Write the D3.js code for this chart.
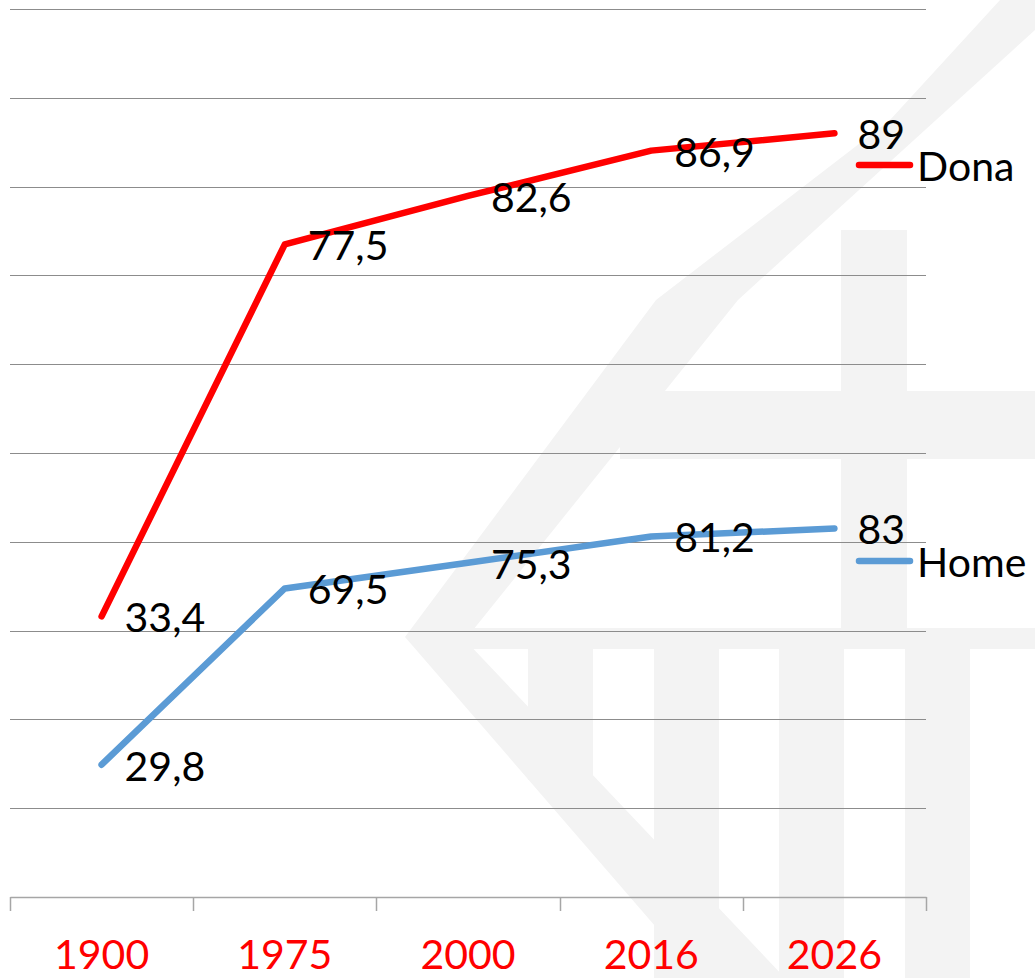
<!DOCTYPE html>
<html>
<head>
<meta charset="utf-8">
<script src="https://cdn.jsdelivr.net/npm/d3@7"></script>
<style>
html,body{margin:0;padding:0;background:#fff;}
svg{display:block;}
text{font-family:Lato,"Open Sans",sans-serif;}
</style>
</head>
<body>
<svg id="chart" width="1035" height="978"></svg>
<script>
// ---- data ----
const categories = ["1900", "1975", "2000", "2016", "2026"];
const dona = [33.4, 77.5, 82.6, 86.9, 89];
const home = [29.8, 69.5, 75.3, 81.2, 83];
const seriesNames = ["Home", "Dona"];
const yTicks = [0, 20, 40, 60, 80, 100, 120, 140, 160, 180, 200];

// ---- layout ----
const W = 1035, H = 978;
const plot = {left: 10, right: 926, top: 9, bottom: 897};
const colors = {Dona: "#ff0000", Home: "#5b9bd5"};
const fontSize = 41;

const svg = d3.select("#chart");
svg.append("rect").attr("width", W).attr("height", H).attr("fill", "#fff");

// ---- faint background watermark (decorative) ----
const wm = svg.append("g").attr("fill", "#f3f3f3");
wm.append("path").attr("d", d3.line()([[1000,0],[1035,0],[1035,30],[738,300],[465,640],[785,978],[700,978],[405,637],[656,300],[890,120]]) + "Z");
wm.append("rect").attr("x", 620).attr("y", 391).attr("width", 415).attr("height", 68);
wm.append("rect").attr("x", 462).attr("y", 628).attr("width", 573).attr("height", 21);
wm.append("rect").attr("x", 841).attr("y", 230).attr("width", 66).attr("height", 398);
wm.append("rect").attr("x", 528).attr("y", 649).attr("width", 65).attr("height", 131);
wm.append("rect").attr("x", 654).attr("y", 649).attr("width", 65).attr("height", 329);
wm.append("rect").attr("x", 779).attr("y", 649).attr("width", 65).attr("height", 329);
wm.append("rect").attr("x", 905).attr("y", 649).attr("width", 65).attr("height", 329);

// ---- scales ----
const x = d3.scaleBand().domain(categories).range([plot.left, plot.right]).paddingInner(0).paddingOuter(0);
const y = d3.scaleLinear().domain([0, 200]).range([plot.bottom, plot.top]);
const cx = c => x(c) + x.bandwidth() / 2;

// ---- gridlines ----
svg.append("g").selectAll("line").data(yTicks.filter(t => t > 0)).join("line")
  .attr("x1", plot.left).attr("x2", plot.right)
  .attr("y1", d => Math.round(y(d)) + 0.5).attr("y2", d => Math.round(y(d)) + 0.5)
  .attr("stroke", "#8c8c8c").attr("stroke-width", 1);

// ---- x axis ----
const xAxis = d3.axisBottom(x).tickSize(0).tickFormat(d => d);
const gx = svg.append("g").attr("transform", `translate(0,${plot.bottom})`).call(xAxis);
gx.select(".domain").attr("stroke", "#a6a6a6").attr("stroke-width", 1.5);
gx.selectAll(".tick text").attr("fill", "#ff0000").attr("font-size", fontSize)
  .attr("font-family", "Lato, 'Open Sans', sans-serif").attr("dy", null).attr("y", 72);
// category boundary tick marks
const bounds = categories.map(c => x(c)).concat([plot.right]);
svg.append("g").selectAll("line").data(bounds).join("line")
  .attr("x1", d => Math.round(d) + 0.5).attr("x2", d => Math.round(d) + 0.5)
  .attr("y1", plot.bottom).attr("y2", plot.bottom + 14)
  .attr("stroke", "#a6a6a6").attr("stroke-width", 1.5);

// ---- stacked data ----
const rows = categories.map((c, i) => ({cat: c, Home: home[i], Dona: dona[i]}));
const stacked = d3.stack().keys(seriesNames)(rows);

const line = d3.line().x(d => cx(d.data.cat)).y(d => y(d[1]));

stacked.forEach(s => {
  svg.append("path").datum(s)
    .attr("fill", "none").attr("stroke", colors[s.key]).attr("stroke-width", 6.5)
    .attr("stroke-linecap", "round").attr("stroke-linejoin", "round")
    .attr("d", line);
});

// ---- data labels ----
const fmt = v => String(v).replace(".", ",");
stacked.forEach(s => {
  svg.append("g").selectAll("text").data(s).join("text")
    .attr("x", d => cx(d.data.cat) + 23)
    .attr("y", d => y(d[1]) + 16)
    .attr("font-size", fontSize).attr("fill", "#000")
    .text(d => fmt(d.data[s.key]));
});

// ---- legend ----
const legendItems = [
  {key: "Dona", y: 165},
  {key: "Home", y: 561}
];
const lg = svg.append("g");
legendItems.forEach(it => {
  lg.append("line").attr("x1", 859).attr("x2", 910).attr("y1", it.y).attr("y2", it.y)
    .attr("stroke", colors[it.key]).attr("stroke-width", 6.5).attr("stroke-linecap", "round");
  lg.append("text").attr("x", 917).attr("y", it.y + 16).attr("font-size", fontSize)
    .attr("fill", "#000").text(it.key);
});
</script>
</body>
</html>
